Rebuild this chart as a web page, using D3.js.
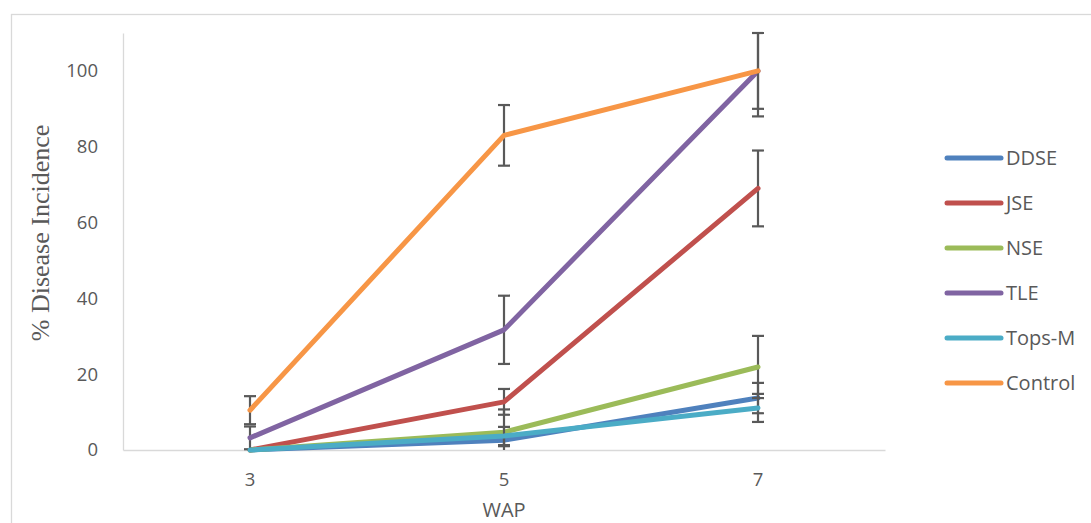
<!DOCTYPE html>
<html><head><meta charset="utf-8">
<script src="https://cdn.jsdelivr.net/npm/d3@7"></script>
<style>body{margin:0;background:#fff}svg{display:block}</style>
</head><body>
<svg id="c" width="1091" height="523"></svg>
<script>
const categories = ["3", "5", "7"];
const seriesNames = ["DDSE", "JSE", "NSE", "TLE", "Tops-M", "Control"];
const DDSE = [0, 2.6, 13.7];
const JSE = [0, 12.7, 69];
const NSE = [0, 4.7, 21.9];
const TLE = [3.2, 31.7, 100];
const TopsM = [0, 3.7, 11.1];
const Control = [10.5, 83, 100];
const errDDSE = [0, 1.6, 4];
const errJSE = [0, 3.4, 10];
const errNSE = [0, 6, 8.2];
const errTLE = [3, 9, 12];
const errTopsM = [0, 2.4, 3.7];
const errControl = [3.7, 8, 10];
const yTicks = [0, 20, 40, 60, 80, 100];
const colors = ["#4F81BD", "#C0504D", "#9BBB59", "#8064A2", "#4BACC6", "#F79646"];

const values = [DDSE, JSE, NSE, TLE, TopsM, Control];
const errors = [errDDSE, errJSE, errNSE, errTLE, errTopsM, errControl];
const series = seriesNames.map((n, i) => ({name: n, vals: values[i], errs: errors[i], color: colors[i]}));

const svg = d3.select("#c");
const L = 123, R = 885, T = 33, B = 450;
const x = d3.scaleBand().domain(categories).range([L, R]);
const y = d3.scaleLinear().domain([0, 110]).range([B, T]);
const cx = c => x(c) + x.bandwidth() / 2;

// outer border
svg.append("rect").attr("x", 11.5).attr("y", 14.5).attr("width", 1200).attr("height", 700)
  .attr("fill", "none").attr("stroke", "#d9d9d9").attr("stroke-width", 1.3);

// y axis
const ya = svg.append("g").attr("transform", `translate(${L},0)`)
  .call(d3.axisLeft(y).tickValues(yTicks).tickSize(0).tickPadding(25));
ya.select(".domain").attr("stroke", "#d9d9d9").attr("stroke-width", 1.3);
ya.selectAll("text").attr("fill", "#595959").style("font-family", "'Open Sans', sans-serif").style("font-size", "18.5px");

// x axis
const xa = svg.append("g").attr("transform", `translate(0,${B})`)
  .call(d3.axisBottom(x).tickSize(0).tickPadding(23));
xa.select(".domain").attr("stroke", "#d9d9d9").attr("stroke-width", 1.3);
xa.selectAll("text").attr("fill", "#595959").style("font-family", "'Open Sans', sans-serif").style("font-size", "18.5px");

// titles
svg.append("text").attr("x", cx("5")).attr("y", 517).attr("text-anchor", "middle")
  .attr("fill", "#595959").style("font-family", "'Open Sans', sans-serif").style("font-size", "20px").text("WAP");
svg.append("text").attr("transform", `translate(49,233) rotate(-90)`).attr("text-anchor", "middle")
  .attr("fill", "#595959").style("font-family", "'Liberation Serif', serif").style("font-size", "26px").text("% Disease Incidence");

const line = d3.line().x((d, i) => cx(categories[i])).y(d => y(d));
const clip = v => Math.max(0, Math.min(110, v));

series.forEach(s => {
  const g = svg.append("g");
  // error bars
  s.vals.forEach((v, i) => {
    const e = s.errs[i];
    if (!e) return;
    const px = cx(categories[i]);
    const hi = v + e, lo = v - e;
    g.append("line").attr("x1", px).attr("x2", px).attr("y1", y(clip(hi))).attr("y2", y(clip(lo)))
      .attr("stroke", "#595959").attr("stroke-width", 2.2);
    [hi, lo].forEach(b => {
      if (b >= 0 && b <= 110) g.append("line").attr("x1", px - 6).attr("x2", px + 6).attr("y1", y(b)).attr("y2", y(b))
        .attr("stroke", "#595959").attr("stroke-width", 2.2);
    });
  });
  g.append("path").datum(s.vals).attr("d", line).attr("fill", "none")
    .attr("stroke", s.color).attr("stroke-width", 5).attr("stroke-linecap", "round").attr("stroke-linejoin", "round");
});

// legend
const lg = svg.append("g");
series.forEach((s, i) => {
  const yy = 158 + i * 45;
  lg.append("line").attr("x1", 947).attr("x2", 1001).attr("y1", yy).attr("y2", yy)
    .attr("stroke", s.color).attr("stroke-width", 5).attr("stroke-linecap", "round");
  lg.append("text").attr("x", 1006).attr("y", yy).attr("dy", "0.35em")
    .attr("fill", "#595959").style("font-family", "'Open Sans', sans-serif").style("font-size", "20px").text(s.name);
});
</script>
</body></html>
